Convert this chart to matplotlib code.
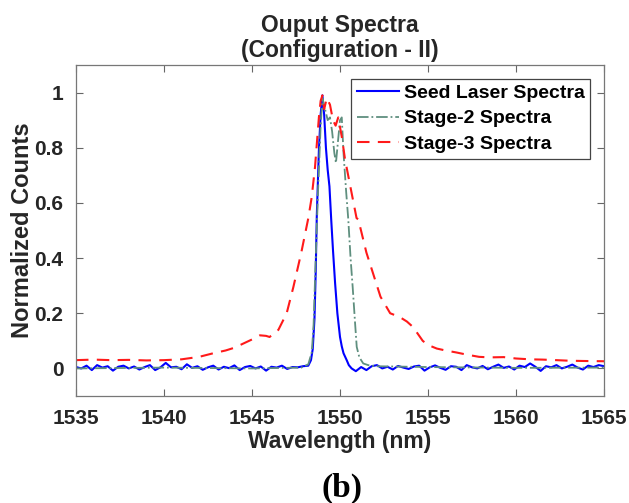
import matplotlib
matplotlib.use("Agg")
import matplotlib.pyplot as plt

# Seed laser spectrum (blue, solid)
seed_wl = [1535.0, 1535.3, 1535.6, 1535.9, 1536.2, 1536.5, 1536.8, 1537.1, 1537.4, 1537.7,
           1538.0, 1538.3, 1538.6, 1538.9, 1539.2, 1539.5, 1539.8, 1540.1, 1540.4, 1540.7,
           1541.0, 1541.3, 1541.6, 1541.9, 1542.2, 1542.5, 1542.8, 1543.1, 1543.4, 1543.7,
           1544.0, 1544.3, 1544.6, 1544.9, 1545.2, 1545.5, 1545.8, 1546.1, 1546.4, 1546.7,
           1547.0, 1547.3, 1547.6, 1547.9, 1548.2, 1548.35, 1548.45, 1548.55, 1548.62, 1548.68,
           1548.8, 1548.9, 1549.0, 1549.1, 1549.2, 1549.3, 1549.4, 1549.5, 1549.6, 1549.72,
           1549.85, 1550.0, 1550.1, 1550.2, 1550.38, 1550.5, 1550.66, 1550.9, 1551.2, 1551.5,
           1551.8, 1552.1, 1552.4, 1552.7, 1553.0, 1553.3, 1553.6, 1553.9, 1554.2, 1554.5,
           1554.8, 1555.1, 1555.4, 1555.7, 1556.0, 1556.3, 1556.6, 1556.9, 1557.2, 1557.5,
           1557.8, 1558.1, 1558.4, 1558.7, 1559.0, 1559.3, 1559.6, 1559.9, 1560.2, 1560.5,
           1560.8, 1561.1, 1561.4, 1561.7, 1562.0, 1562.3, 1562.6, 1562.9, 1563.2, 1563.5,
           1563.8, 1564.1, 1564.4, 1564.7, 1565.0]
seed_val = [0.005, 0.000, 0.010, -0.006, 0.012, 0.003, 0.008, -0.008, 0.006, 0.010,
            0.000, 0.007, -0.004, 0.005, 0.012, -0.006, 0.004, 0.020, 0.004, 0.006,
            -0.003, 0.015, 0.002, 0.008, -0.005, 0.004, 0.010, -0.004, 0.006, 0.001,
            0.011, -0.006, 0.005, 0.009, 0.000, 0.007, -0.008, 0.006, 0.003, 0.010,
            -0.002, 0.005, 0.004, 0.008, 0.010, 0.030, 0.070, 0.180, 0.350, 0.550,
            0.790, 0.920, 0.990, 0.920, 0.800, 0.720, 0.660, 0.540, 0.430, 0.310,
            0.200, 0.114, 0.080, 0.055, 0.030, 0.012, 0.000, -0.010, 0.005, -0.006,
            0.008, 0.012, 0.000, 0.006, -0.004, 0.009, 0.003, -0.002, 0.007, 0.010,
            -0.008, 0.004, 0.011, 0.002, -0.005, 0.008, 0.006, -0.006, 0.012, 0.004,
            0.000, 0.009, -0.003, 0.006, 0.014, 0.002, 0.007, -0.004, 0.010, 0.005,
            0.018, 0.006, -0.009, 0.008, 0.004, 0.012, 0.000, 0.006, 0.014, 0.003,
            -0.004, 0.010, 0.005, 0.012, 0.008]

# Stage-2 spectrum (grey-green, dash-dot)
st2_wl = [1535.0, 1540.0, 1545.0, 1547.8, 1548.2, 1548.4, 1548.5, 1548.6, 1548.75, 1548.9,
          1549.0, 1549.15, 1549.3, 1549.43, 1549.55, 1549.68, 1549.77, 1549.88, 1550.0, 1550.1,
          1550.2, 1550.35, 1550.47, 1550.6, 1550.72, 1550.85, 1550.95, 1551.1, 1551.32, 1551.6,
          1552.0, 1555.0, 1560.0, 1565.0]
st2_val = [0.000, 0.003, 0.000, 0.003, 0.015, 0.060, 0.160, 0.360, 0.640, 0.880,
           0.980, 0.940, 0.900, 0.910, 0.860, 0.780, 0.745, 0.820, 0.900, 0.910,
           0.780, 0.640, 0.540, 0.400, 0.295, 0.170, 0.078, 0.040, 0.018, 0.012,
           0.008, 0.005, 0.002, 0.003]

# Stage-3 spectrum (red, dashed)
st3_wl = [1535.0, 1536.0, 1537.0, 1538.0, 1539.0, 1540.0, 1541.0, 1542.0, 1542.8, 1543.5,
          1544.0, 1544.5, 1545.0, 1545.45, 1545.8, 1546.0, 1546.5, 1546.97, 1547.35, 1547.8,
          1548.2, 1548.39, 1548.58, 1548.8, 1548.9, 1549.0, 1549.1, 1549.25, 1549.43, 1549.6,
          1549.75, 1549.9, 1550.1, 1550.28, 1550.57, 1550.94, 1551.04, 1551.5, 1552.0, 1552.3,
          1552.85, 1553.4, 1553.8, 1554.15, 1554.7, 1555.0, 1555.5, 1556.0, 1556.6, 1557.2,
          1557.9, 1558.5, 1559.3, 1560.0, 1560.8, 1561.5, 1562.3, 1563.0, 1563.8, 1565.0]
st3_val = [0.030, 0.032, 0.030, 0.031, 0.029, 0.030, 0.033, 0.042, 0.055, 0.065,
           0.075, 0.090, 0.105, 0.120, 0.118, 0.114, 0.140, 0.200, 0.295, 0.420,
           0.545, 0.620, 0.730, 0.910, 0.970, 0.990, 0.940, 0.980, 0.956, 0.900,
           0.880, 0.910, 0.840, 0.760, 0.665, 0.545, 0.540, 0.420, 0.320, 0.260,
           0.200, 0.186, 0.170, 0.150, 0.100, 0.085, 0.072, 0.065, 0.058, 0.050,
           0.042, 0.040, 0.041, 0.036, 0.033, 0.032, 0.030, 0.028, 0.027, 0.026]

x_ticks = [1535, 1540, 1545, 1550, 1555, 1560, 1565]
y_ticks = [0, 0.2, 0.4, 0.6, 0.8, 1]
y_tick_labels = ["0", "0.2", "0.4", "0.6", "0.8", "1"]

plt.rcParams['font.family'] = ['Liberation Sans', 'DejaVu Sans']
plt.rcParams['font.weight'] = 'bold'
txt = '#262626'

fig = plt.figure(figsize=(6.29, 5.03), dpi=100)
ax = fig.add_axes([0.1208, 0.2127, 0.8395, 0.6581])

ax.plot(seed_wl, seed_val, color='#0000ff', lw=1.5, label='Seed Laser Spectra')
ax.plot(st2_wl, st2_val, color='#5f8f7f', lw=1.3, ls='-.', label='Stage-2 Spectra')
ax.plot(st3_wl, st3_val, color='#ff1a1a', lw=1.5, ls=(0, (6, 4)), label='Stage-3 Spectra')

ax.set_xlim(1535, 1565)
ax.set_ylim(-0.1, 1.1)
ax.set_xticks(x_ticks)
ax.set_yticks(y_ticks)
ax.set_yticklabels(y_tick_labels)
ax.tick_params(direction='in', length=5, width=0.8, top=True, right=True,
               colors='#666666', labelcolor=txt, labelsize=15, pad=9)
for s in ax.spines.values():
    s.set_color('#777777')
    s.set_linewidth(0.9)

ax.set_title('Ouput Spectra\n(Configuration - II)', fontsize=16.5, fontweight='bold',
             color=txt, pad=6, linespacing=1.1)
ax.set_xlabel('Wavelength (nm)', fontsize=16.5, fontweight='bold', color=txt, labelpad=2)
ax.set_ylabel('Normalized Counts', fontsize=17, fontweight='bold', color=txt, labelpad=0)

leg = ax.legend(loc='upper right', fontsize=14, frameon=True, fancybox=False,
                framealpha=1, edgecolor='#444444', borderpad=0.3, labelspacing=0.4,
                handlelength=2.15, handletextpad=0.25, borderaxespad=0.7)
leg.get_frame().set_linewidth(0.9)
for t in leg.get_texts():
    t.set_color('black')

fig.text(0.544, 0.03, '(b)', fontsize=24, fontweight='bold', ha='center', va='center',
         family=['Liberation Serif', 'DejaVu Serif'])

fig.savefig('out.png', dpi=100)
